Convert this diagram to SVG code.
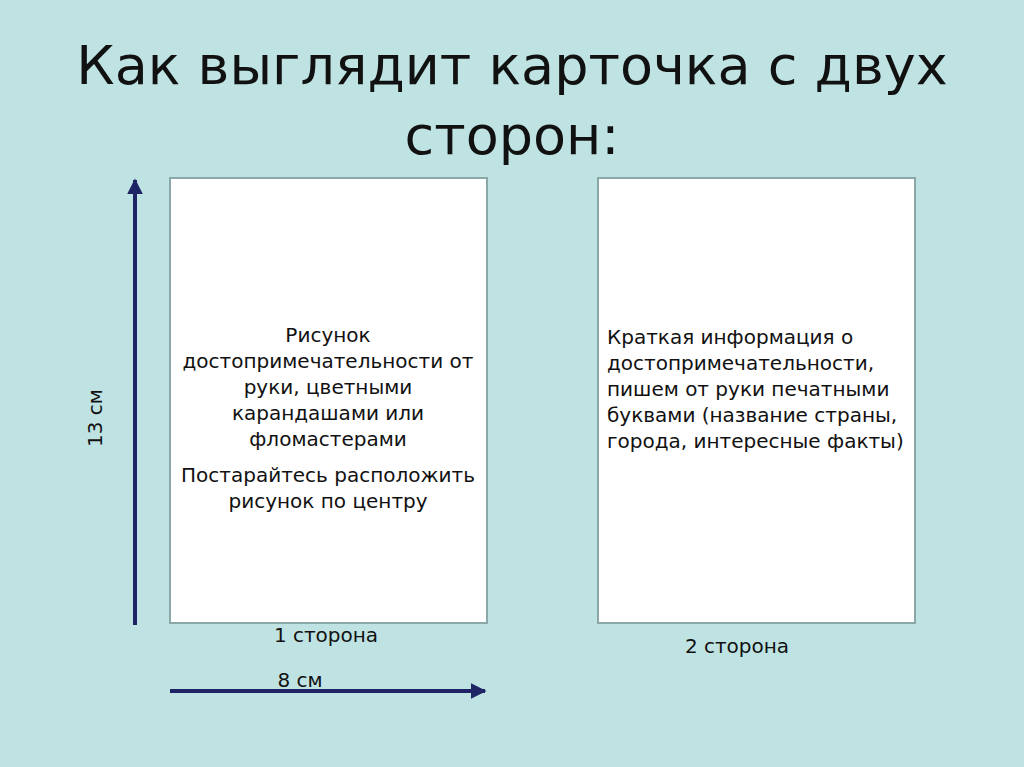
<svg xmlns="http://www.w3.org/2000/svg" width="1024" height="767" viewBox="0 0 1024 767">
<style>
text{font-family:"DejaVu Sans","Liberation Sans",sans-serif;fill:#111}
.card{fill:#fff;stroke:#8aa8a8;stroke-width:2}
.t{font-size:20px}
.arr{stroke:#1f2466;stroke-width:4;fill:none}
</style>
<defs><marker id="ah" viewBox="0 0 10 10" refX="9" refY="5" markerWidth="4" markerHeight="4" orient="auto" markerUnits="strokeWidth"><path d="M0,0L10,5L0,10z" fill="#1f2466"/></marker></defs>
<rect width="1024" height="767" fill="#bfe3e3"/>
<g id="title">
<text x="512" y="84" text-anchor="middle" style="font-size:54px">Как выглядит карточка с двух</text>
<text x="512" y="154" text-anchor="middle" style="font-size:54px">сторон:</text>
</g>
<g id="card1">
<rect class="card" x="170" y="178" width="317" height="445"/>
<text class="t" text-anchor="middle"><tspan x="328" y="342">Рисунок</tspan><tspan x="328" y="368">достопримечательности от</tspan><tspan x="328" y="394">руки, цветными</tspan><tspan x="328" y="420">карандашами или</tspan><tspan x="328" y="446">фломастерами</tspan><tspan x="328" y="482">Постарайтесь расположить</tspan><tspan x="328" y="508">рисунок по центру</tspan></text>
</g>
<g id="card2">
<rect class="card" x="598" y="178" width="317" height="445"/>
<text class="t"><tspan x="607" y="344">Краткая информация о</tspan><tspan x="607" y="370">достопримечательности,</tspan><tspan x="607" y="396">пишем от руки печатными</tspan><tspan x="607" y="422">буквами (название страны,</tspan><tspan x="607" y="448">города, интересные факты)</tspan></text>
</g>
<g id="labels">
<text class="t" x="326" y="642" text-anchor="middle">1 сторона</text>
<text class="t" x="737" y="653" text-anchor="middle">2 сторона</text>
<text class="t" x="300" y="687" text-anchor="middle">8 см</text>
<text class="t" transform="translate(102,418) rotate(-90)" text-anchor="middle">13 см</text>
</g>
<g id="connectors">
<line class="arr" x1="135" y1="625" x2="135" y2="180" marker-end="url(#ah)"/>
<line class="arr" x1="170" y1="691" x2="485" y2="691" marker-end="url(#ah)"/>
</g>
</svg>
